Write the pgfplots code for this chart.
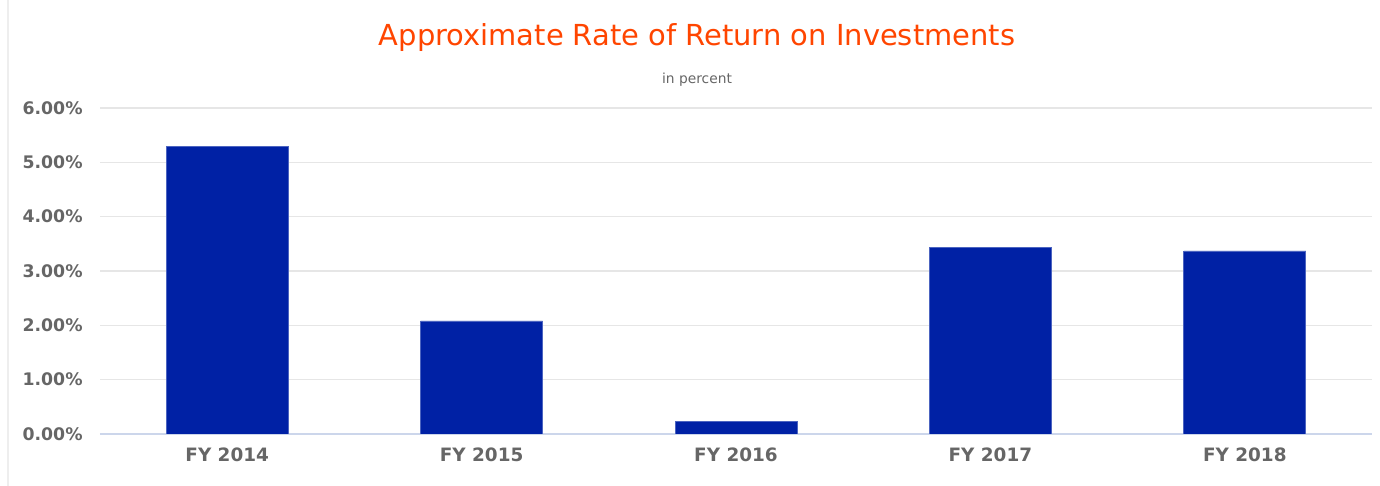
\documentclass[border=0pt]{standalone}
\usepackage{pgfplots}
\pgfplotsset{compat=1.18}
\usepackage{fontspec}
\setmainfont{DejaVu Sans}
\definecolor{barblue}{RGB}{0,33,165}
\definecolor{titlecol}{RGB}{255,69,0}
\definecolor{labgray}{RGB}{102,102,102}
\definecolor{gridgray}{RGB}{230,230,230}
\definecolor{axisblue}{RGB}{204,214,235}
\definecolor{bordergray}{RGB}{238,238,238}
\begin{document}
\begin{tikzpicture}
\useasboundingbox (0,0) rectangle (690pt,243pt);
\draw[bordergray, line width=0.8pt] (4pt,0) -- (4pt,243pt);
\begin{axis}[
  at={(50pt,26pt)}, anchor=south west,
  scale only axis, width=636pt, height=163pt,
  xmin=-0.5, xmax=4.5, ymin=0, ymax=6,
  axis x line*=bottom, axis y line*=left,
  x axis line style={draw=axisblue, line width=0.6pt, -},
  y axis line style={draw=none, -},
  major tick length=0pt,
  xtick=data,
  xticklabels={FY 2014,FY 2015,FY 2016,FY 2017,FY 2018},
  ytick={0,1,2,3,4,5,6},
  yticklabels={0.00\%,1.00\%,2.00\%,3.00\%,4.00\%,5.00\%,6.00\%},
  ymajorgrids, grid style={gridgray, line width=0.6pt},
  yticklabel style={font=\fontsize{8.65}{10}\selectfont\bfseries, text=labgray, inner sep=0pt, anchor=east, xshift=-8.5pt},
  xticklabel style={font=\fontsize{9.2}{11}\selectfont\bfseries, text=labgray, inner sep=0pt, anchor=base, yshift=-13.85pt},
  ybar, bar width=61pt,
]
\addplot[fill=barblue, draw=barblue!70!white, line width=0.4pt] coordinates {(0,5.30) (1,2.08) (2,0.23) (3,3.44) (4,3.37)};
\end{axis}
\node[anchor=base, text=titlecol, font=\fontsize{14.47}{17}\selectfont, inner sep=0pt] at (348.5pt,220pt) {Approximate Rate of Return on Investments};
\node[anchor=base, text=labgray, font=\fontsize{6.9}{8}\selectfont, inner sep=0pt] at (348.5pt,201pt) {in percent};
\end{tikzpicture}
\end{document}
